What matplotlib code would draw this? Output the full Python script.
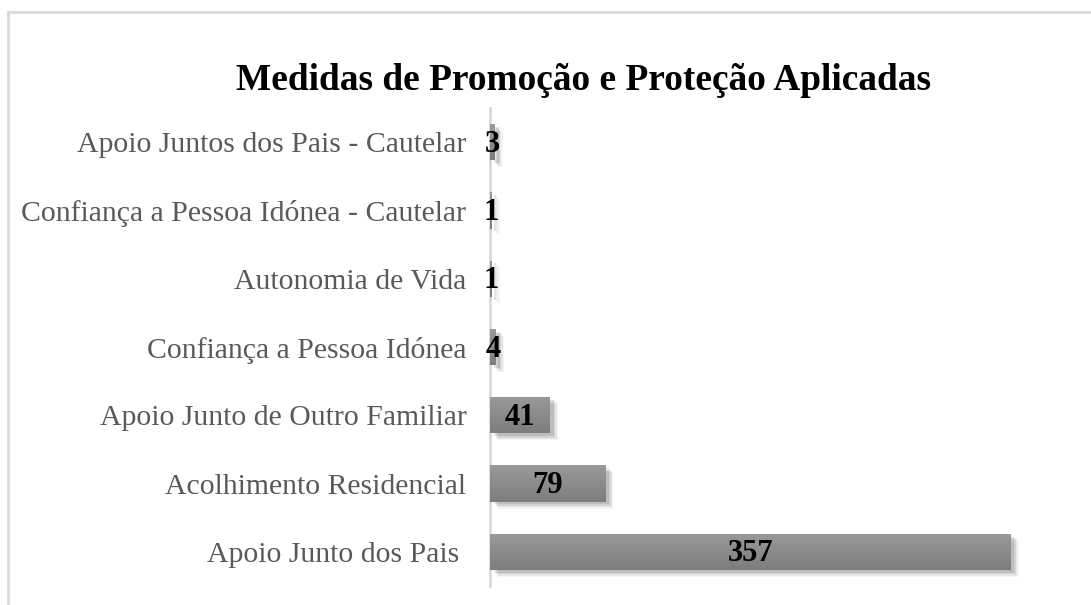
import numpy as np
import matplotlib
matplotlib.use("Agg")
import matplotlib.pyplot as plt
from matplotlib import patheffects as pe
from matplotlib.patches import Rectangle
from matplotlib.colors import LinearSegmentedColormap

categories = ["Apoio Junto dos Pais ", "Acolhimento Residencial", "Apoio Junto de Outro Familiar",
              "Confiança a Pessoa Idónea", "Autonomia de Vida",
              "Confiança a Pessoa Idónea - Cautelar", "Apoio Juntos dos Pais - Cautelar"]
values = [357, 79, 41, 4, 1, 1, 3]
title = "Medidas de Promoção e Proteção Aplicadas"

plt.rcParams['font.family'] = ['Liberation Serif', 'DejaVu Serif']

W, H = 1091, 605
fig = plt.figure(figsize=(W / 100, H / 100), dpi=100)
fig.patch.set_facecolor('white')

# outer light border (extends past right/bottom edges)
fig.add_artist(Rectangle((8 / W, -0.1), 1.2, 1 - 12 / H + 0.1, transform=fig.transFigure,
                         fill=False, edgecolor='#d9d9d9', lw=2))

left, right = 490, 1073
top, bottom = 108, 586
ax = fig.add_axes([left / W, 1 - bottom / H, (right - left) / W, (bottom - top) / H])

y = np.arange(len(categories))
bh = 0.53
bars = ax.barh(y, values, height=bh, color='#8c8c8c', edgecolor='none', zorder=2)

grad = np.linspace(0, 1, 64).reshape(-1, 1)
cmap = LinearSegmentedColormap.from_list('g', ['#7d7d7d', '#9a9a9a'])
for b, v, yy in zip(bars, values, y):
    b.set_path_effects([
        pe.SimplePatchShadow(offset=(6, -5), shadow_rgbFace='#000000', alpha=0.04),
        pe.SimplePatchShadow(offset=(5, -4), shadow_rgbFace='#000000', alpha=0.06),
        pe.SimplePatchShadow(offset=(4, -3), shadow_rgbFace='#000000', alpha=0.08),
        pe.SimplePatchShadow(offset=(3, -2), shadow_rgbFace='#000000', alpha=0.10),
        pe.Normal()])
    im = ax.imshow(grad, cmap=cmap, origin='lower', aspect='auto',
                   extent=[0, v, yy - bh / 2, yy + bh / 2], zorder=3)
    im.set_clip_path(b)
    ax.text(v / 2, yy - 0.03, str(v), ha='center', va='center', fontsize=22,
            fontweight='bold', color='black', zorder=5)

ax.set_xlim(0, 400)
ax.set_ylim(-0.5, len(categories) - 0.5)

ax.set_yticks(y)
ax.set_yticklabels(categories, fontsize=21.4, color='#595959')
ax.tick_params(axis='y', length=0, pad=17)
ax.set_xticks([])
for s in ['top', 'right', 'bottom']:
    ax.spines[s].set_visible(False)
ax.spines['left'].set_color('#d9d9d9')
ax.spines['left'].set_linewidth(2)
ax.spines['left'].set_zorder(1)
ax.patch.set_alpha(0)

fig.text(583 / W, 1 - 80 / H, title, ha='center', va='center', fontsize=26.9,
         fontweight='bold', color='black')

fig.savefig('out.png', dpi=100)
